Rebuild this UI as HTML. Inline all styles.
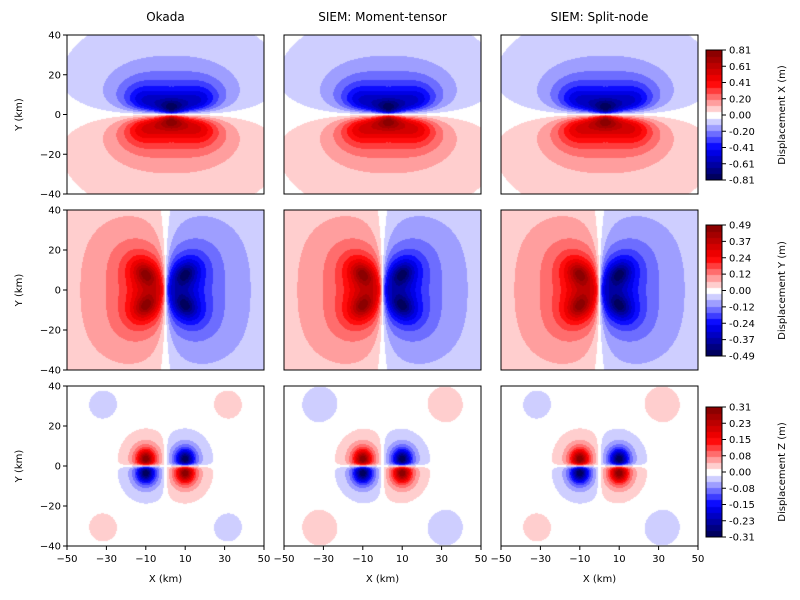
<!DOCTYPE html>
<html><head><meta charset="utf-8"><style>
body{margin:0;background:#fff;width:800px;height:600px;overflow:hidden;position:relative;font-family:"Liberation Sans","DejaVu Sans",sans-serif}
canvas{position:absolute;left:0;top:0}
svg{position:absolute;left:0;top:0}
</style></head><body>
<canvas id="c" width="800" height="600"></canvas>
<svg id="s" width="800" height="600" font-family="DejaVu Sans, Liberation Sans, sans-serif" font-size="10"></svg>
<script>
const cols=[67,284,501], PW=197;
const rows=[[35,194],[210,370],[386,546]];
const vmax=[0.81,0.49,0.31];
const NB=21;
function seis(t){
 const k=[[0,0,0,.3],[.25,0,0,1],[.5,1,1,1],[.75,1,0,0],[1,.5,0,0]];
 t=Math.max(0,Math.min(1,t));
 for(let i=0;i<4;i++){if(t<=k[i+1][0]){const f=(t-k[i][0])/(k[i+1][0]-k[i][0]);
  return [0,1,2].map(j=>Math.round(255*(k[i][j+1]+f*(k[i+1][j+1]-k[i][j+1]))));}}
 return [128,0,0];
}
function band(v,vm){
 let b=Math.floor((v+vm)/(2*vm)*NB); b=Math.max(0,Math.min(NB-1,b));
 return seis((b+0.5)/NB);
}
const sg=v=>v<0?-1:1;
function fx(x,y){const ay=Math.abs(y);
 const d0=((x-3)*0.6)**2+(ay-3)**2+30;
 const d1=((x+12)*0.85)**2+(ay-6)**2+90;
 const d2=((x-18)*0.85)**2+(ay-6)**2+90;
 const w=1.2+0.22*Math.abs(x-3);
 return -sg(y)*(ay/Math.sqrt(ay*ay+w*w))*(0.5/d0+1.1/d1+1.1/d2);}
function lobeY(ax,y,s){
 const dx=ax-10, dy=y-s*8;
 const n=Math.sqrt(2);const ux=1/n, uy=s/n;
 const along=dx*ux+dy*uy, perp=-dx*uy+dy*ux;
 return Math.pow((along*0.75)**2+perp*perp+20,-0.62);}
function fy(x,y){const ax=Math.abs(x);
 const w=1.2+0.12*Math.abs(y);
 return -sg(x)*(ax/Math.sqrt(ax*ax+w*w))*(lobeY(ax,y,1)+lobeY(ax,y,-1));}
function fzm(x,y){const ax=Math.abs(x),ay=Math.abs(y);
 return -sg(x)*sg(y)*Math.tanh(ax/1.5)*Math.tanh(ay/1.0)*Math.pow((ax-10)**2+0.85*(ay-3.5)**2+30,-1.5);}
function norm(f){let m=0;for(let x=-50;x<=50;x+=0.5)for(let y=-40;y<=40;y+=0.5)m=Math.max(m,Math.abs(f(x,y)));return m;}
const nx=norm(fx),ny=norm(fy),nz=norm(fzm);
const ctx=document.getElementById('c').getContext('2d');
const corner=[[[0.03,80],[0.03,80]],[[0.03,130],[0.03,130]],[[0.03,80],[0.03,130]]];
for(let r=0;r<3;r++){for(let c=0;c<3;c++){
 const x0=cols[c],y0=rows[r][0],h=rows[r][1]-rows[r][0];
 const img=ctx.createImageData(PW,h);
 for(let py=0;py<h;py++)for(let px=0;px<PW;px++){
  const x=-50+(px+0.5)/PW*100, y=40-(py+0.5)/h*80;
  let v;
  if(r==0)v=fx(x,y)/nx*0.81;
  else if(r==1)v=fy(x,y)/ny*0.49;
  else{v=fzm(x,y)/nz*0.31;
   const cc=x<0?corner[c][0]:corner[c][1];
   v+=Math.sign(x*y)*cc[0]*Math.exp(-((Math.abs(x)-31.5)**2+(Math.abs(y)-30.5)**2)/cc[1]);}
  const col=band(v,vmax[r]);const i=(py*PW+px)*4;
  img.data[i]=col[0];img.data[i+1]=col[1];img.data[i+2]=col[2];img.data[i+3]=255;}
 ctx.putImageData(img,x0,y0);
}}
const cb=[[50,180],[225,356],[407,537]];
for(let r=0;r<3;r++){const [t,b]=cb[r];const h=b-t;
 for(let i=0;i<NB;i++){const col=seis((i+0.5)/NB);ctx.fillStyle=`rgb(${col})`;
  const yb=b-i*h/NB, yt=b-(i+1)*h/NB;ctx.fillRect(706,Math.floor(yt),16,Math.ceil(yb)-Math.floor(yt));}}
let s='';
const titles=["Okada","SIEM: Moment-tensor","SIEM: Split-node"];
for(let c=0;c<3;c++)s+=`<text x="${cols[c]+PW/2}" y="21" font-size="12" text-anchor="middle">${titles[c]}</text>`;
for(let r=0;r<3;r++){const [t,b]=rows[r];
 for(let c=0;c<3;c++){const x0=cols[c];
  s+=`<rect x="${x0}" y="${t}" width="${PW}" height="${b-t}" fill="none" stroke="#000" stroke-width="1"/>`;
  if(c==0){[40,20,0,-20,-40].forEach(v=>{const y=t+(40-v)/80*(b-t);
   s+=`<line x1="${x0-4}" y1="${y}" x2="${x0}" y2="${y}" stroke="#000"/><text x="${x0-6}" y="${y+3.5}" text-anchor="end">${v<0?'−'+(-v):v}</text>`;});
   s+=`<text transform="translate(22,${(t+b)/2}) rotate(-90)" text-anchor="middle">Y (km)</text>`;}
  if(r==2){[-50,-30,-10,10,30,50].forEach(v=>{const x=x0+(v+50)/100*PW;
   s+=`<line x1="${x}" y1="${b}" x2="${x}" y2="${b+4}" stroke="#000"/><text x="${x}" y="${b+16}" text-anchor="middle">${v<0?'−'+(-v):v}</text>`;});
   s+=`<text x="${x0+PW/2}" y="582" text-anchor="middle">X (km)</text>`;}
 }
 const [ct,cbb]=cb[r];const vm=vmax[r];
 s+=`<rect x="706" y="${ct}" width="16" height="${cbb-ct}" fill="none" stroke="#000"/>`;
 for(let i=0;i<9;i++){const v=vm-i*vm/4;const y=ct+i*(cbb-ct)/8;
  s+=`<line x1="722" y1="${y}" x2="726" y2="${y}" stroke="#000"/><text x="729" y="${y+3.5}">${(Math.abs(v)<1e-9?0:v).toFixed(2)}</text>`;}
 s+=`<text transform="translate(785,${(ct+cbb)/2}) rotate(-90)" text-anchor="middle">Displacement ${['X','Y','Z'][r]} (m)</text>`;
}
document.getElementById('s').innerHTML=s;
</script>
</body></html>
